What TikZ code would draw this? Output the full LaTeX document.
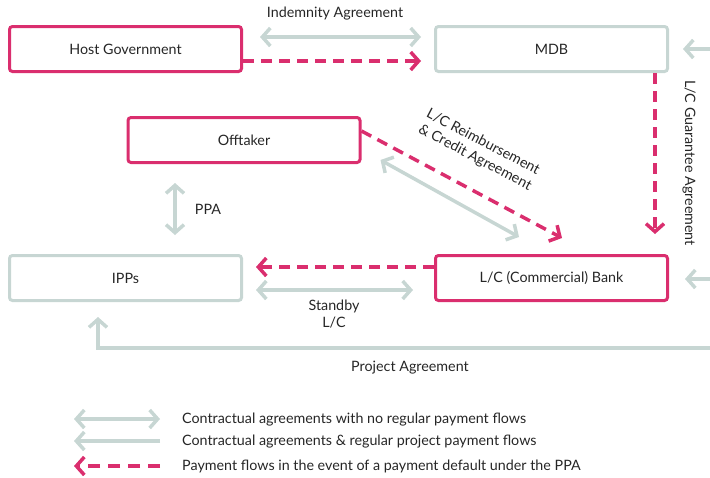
\documentclass[tikz,border=0pt]{standalone}
\usepackage{fontspec}
\setmainfont{Lato}
\usetikzlibrary{arrows.meta,calc}
\definecolor{pk}{RGB}{218,46,110}
\definecolor{gr}{RGB}{199,214,211}
\tikzset{
  box/.style={draw, line width=3pt, rounded corners=3pt, minimum width=232pt, minimum height=45pt, inner sep=0pt, font=\fontsize{14.3}{17}\selectfont, text=black!85},
  pinkbox/.style={box, draw=pk},
  graybox/.style={box, draw=gr},
  garrow/.style={draw=gr, line width=3.5pt, -{Straight Barb[length=8pt,width=18pt]}},
  gdouble/.style={draw=gr, line width=3.5pt, {Straight Barb[length=8pt,width=18pt]}-{Straight Barb[length=8pt,width=18pt]}},
  parrow/.style={draw=pk, line width=3.5pt, dash pattern=on 11pt off 7pt, -{Straight Barb[length=8pt,width=18pt]}},
  lbl/.style={font=\fontsize{14.3}{17.5}\selectfont, text=black!85, inner sep=0pt},
}
\begin{document}
\begin{tikzpicture}[x=1pt,y=-1pt]
\useasboundingbox (0,0) rectangle (710,477);
% boxes
\node[pinkbox] (hg) at (125.5,49) {Host Government};
\node[graybox] (mdb) at (551.5,49) {MDB};
\node[pinkbox] (off) at (244,140) {Offtaker};
\node[graybox] (ipp) at (125.5,278) {IPPs};
\node[pinkbox] (bank) at (551.5,278) {L/C (Commercial) Bank};
% right-edge entry points
\coordinate (r1) at (714,49);
\coordinate (r2) at (714,279);
\coordinate (r3) at (714,348);
% Indemnity
\draw[gdouble, shorten <=17pt, shorten >=13pt] ([yshift=12pt]hg.east) -- ([yshift=12pt]mdb.west);
\node[lbl] (ind) at (335,14) {Indemnity Agreement};
\draw[parrow, shorten >=13pt] ([yshift=-12pt]hg.east) -- ([yshift=-12pt]mdb.west);
% MDB guarantee
\draw[parrow, shorten >=20pt] ([xshift=103.5pt]mdb.south) -- ([xshift=103.5pt]bank.north);
\draw[garrow, shorten >=14pt] (r1) -- (mdb.east);
\draw[garrow, shorten >=16pt] (r2) -- ([yshift=-1pt]bank.east);
\node[lbl, rotate=-90] (guar) at (689,163) {L/C Guarantee Agreement};
% Offtaker - Bank
\draw[gdouble] ([shift={(19pt,4pt)}]off.south east) -- ([shift={(85pt,17pt)}]bank.north west);
\draw[parrow] ([yshift=9pt]off.east) -- ([shift={(128pt,16pt)}]bank.north west);
\node[lbl, rotate=-27.7, align=center] (reimb) at (479,150) {L/C Reimbursement\\\& Credit Agreement};
% PPA
\draw[gdouble, shorten <=19pt, shorten >=19pt] ([xshift=-69pt]off.south) -- ([xshift=-69pt]off.south |- ipp.north);
\node[lbl] (ppa) at (208,209) {PPA};
% Bank - IPPs
\draw[parrow, shorten >=13pt] ([yshift=11pt]bank.west) -- ([yshift=11pt]bank.west -| ipp.east);
\draw[gdouble, shorten <=13pt, shorten >=21pt] ([yshift=-12pt]ipp.east) -- ([yshift=-12pt]ipp.east -| bank.west);
\node[lbl, align=center] (stby) at (334,314) {Standby\\L/C};
% Project agreement
\draw[garrow, shorten >=15pt] (r3) -| ([xshift=-27.5pt]ipp.south);
\node[lbl] (proj) at (410,368) {Project Agreement};
% legend
\coordinate (l1a) at (74,419); \coordinate (l1b) at (160,419);
\coordinate (l2a) at (74,441); \coordinate (l2b) at (160,441);
\coordinate (l3a) at (74,466); \coordinate (l3b) at (160,466);
\draw[gdouble] (l1a) -- (l1b);
\draw[garrow] (l2b) -- (l2a);
\draw[parrow, dash pattern=on 12pt off 8pt] (l3b) -- (l3a);
\node[lbl, anchor=west] (t1) at (182,420) {Contractual agreements with no regular payment flows};
\node[lbl, anchor=west] (t2) at (182,442) {Contractual agreements \& regular project payment flows};
\node[lbl, anchor=west] (t3) at (182,466) {Payment flows in the event of a payment default under the PPA};
\end{tikzpicture}
\end{document}
